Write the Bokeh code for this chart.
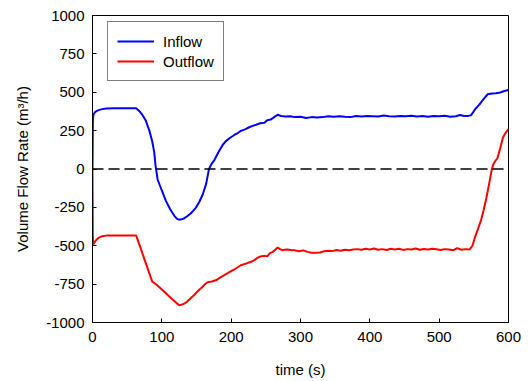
from bokeh.plotting import figure
from bokeh.models import Span, FixedTicker, Range1d, Legend, LegendItem
from bokeh.embed import file_html
from bokeh.resources import INLINE

# ---- data ----
t_in = [0, 0.5, 1, 2, 4, 7, 10, 14, 20, 30, 40, 50, 58, 63, 67, 72, 77, 82, 86, 89, 91, 94,
        100, 106, 112, 118, 122, 125, 128, 132, 137, 142, 149, 154, 159, 164, 168, 172, 176,
        182, 188, 192, 198, 204, 210, 214, 220, 226, 231, 236, 242, 248, 252, 257, 262, 267,
        272, 278, 285, 292, 300, 308, 316, 324, 332, 340, 348, 356, 364, 372, 380, 388, 396,
        404, 412, 420, 428, 436, 444, 452, 460, 468, 476, 484, 492, 500, 508, 516, 524, 530,
        536, 542, 546, 552, 558, 564, 570, 576, 582, 588, 594, 600]
inflow = [0, 300, 345, 360, 372, 380, 385, 390, 394, 395, 396, 396, 396, 396, 380, 352, 314,
          250, 183, 110, 20, -70, -140, -209, -262, -305, -325, -330, -328, -322, -306, -288,
          -253, -215, -166, -95, 0, 35, 60, 112, 158, 180, 202, 220, 236, 248, 258, 272, 281,
          288, 298, 302, 318, 322, 338, 353, 345, 342, 344, 338, 340, 332, 338, 336, 338, 343,
          340, 344, 340, 338, 345, 342, 346, 344, 342, 348, 344, 342, 345, 343, 347, 342, 345,
          340, 346, 343, 347, 341, 344, 352, 345, 346, 350, 390, 420, 455, 487, 492, 494, 498,
          508, 515]

t_out = [0, 0.5, 1, 2, 4, 7, 10, 14, 20, 30, 40, 50, 58, 63, 68, 74, 80, 86, 92, 98, 104,
         110, 116, 122, 125, 128, 132, 137, 142, 147, 152, 158, 163, 166, 172, 178, 184, 190,
         195, 200, 206, 214, 220, 228, 234, 238, 243, 248, 252, 256, 260, 264, 267, 270, 274,
         280, 286, 292, 298, 304, 310, 316, 322, 328, 334, 340, 346, 352, 358, 364, 370, 376,
         382, 388, 394, 400, 406, 412, 418, 424, 430, 436, 442, 448, 454, 460, 466, 472, 478,
         484, 490, 496, 502, 508, 514, 520, 526, 532, 538, 544, 548, 552, 556, 560, 564, 568,
         571, 574, 576, 578, 581, 584, 587, 590, 592, 595, 598, 600]
outflow = [0, -440, -490, -485, -470, -455, -445, -438, -434, -433, -433, -433, -433, -433,
           -498, -576, -654, -732, -752, -777, -802, -827, -852, -876, -888, -885, -878, -862,
           -840, -819, -795, -770, -748, -738, -733, -725, -708, -692, -678, -665, -650, -627,
           -618, -606, -592, -578, -569, -566, -569, -548, -540, -525, -512, -520, -529, -525,
           -528, -530, -536, -530, -540, -545, -546, -544, -536, -532, -535, -528, -532, -526,
           -530, -525, -522, -526, -520, -524, -518, -526, -522, -528, -520, -524, -519, -527,
           -522, -525, -518, -526, -521, -525, -520, -523, -528, -522, -525, -530, -515, -526,
           -522, -524, -500, -440, -390, -340, -270, -190, -122, -50, -2, 30, 52, 70, 118, 170,
           205, 230, 248, 259]

x_ticks = [0, 100, 200, 300, 400, 500, 600]
y_ticks = [-1000, -750, -500, -250, 0, 250, 500, 750, 1000]
y_tick_labels = ["-1000", "-750", "-500", "-250", "0", "250", "500", "750", "1000"]
series_names = ["Inflow", "Outflow"]

FONT = "Liberation Sans"

p = figure(width=528, height=381, output_backend="svg", toolbar_location=None,
           x_range=Range1d(0, 600), y_range=Range1d(-1000, 1000),
           min_border_left=92, min_border_right=20, min_border_top=15, min_border_bottom=59)
p.frame_width = 416
p.frame_height = 307

p.xgrid.visible = False
p.ygrid.visible = False
p.outline_line_color = "black"
p.outline_line_width = 1

for ax in (p.xaxis[0], p.yaxis[0]):
    ax.major_tick_in = 4
    ax.major_tick_out = 0
    ax.minor_tick_line_color = None
    ax.axis_line_color = "black"
    ax.major_tick_line_color = "black"
    ax.major_label_text_font = FONT
    ax.major_label_text_font_size = "15px"
    ax.major_label_text_color = "black"
    ax.axis_label_text_font = FONT
    ax.axis_label_text_font_size = "15px"
    ax.axis_label_text_font_style = "normal"
    ax.axis_label_text_color = "black"

p.xaxis[0].ticker = FixedTicker(ticks=x_ticks)
p.yaxis[0].ticker = FixedTicker(ticks=y_ticks)
p.yaxis[0].major_label_overrides = {v: s for v, s in zip(y_ticks, y_tick_labels)}
p.xaxis[0].axis_label = "time (s)"
p.yaxis[0].axis_label = "Volume Flow Rate (m³/h)"
p.xaxis[0].major_label_standoff = 9
p.yaxis[0].major_label_standoff = 8
p.xaxis[0].axis_label_standoff = 16
p.yaxis[0].axis_label_standoff = 12

p.add_layout(Span(location=0, dimension="width", line_color="black", line_width=1.3,
                  line_dash="11 5"))

r_in = p.line(t_in, inflow, line_color="#0000ff", line_width=2)
r_out = p.line(t_out, outflow, line_color="#ff0000", line_width=2)

legend = Legend(items=[LegendItem(label=series_names[0], renderers=[r_in]),
                       LegendItem(label=series_names[1], renderers=[r_out])],
                location=(15, 241))
legend.border_line_color = "black"
legend.border_line_width = 1
legend.background_fill_color = "white"
legend.background_fill_alpha = 1
legend.padding = 9
legend.spacing = 0
legend.margin = 0
legend.glyph_width = 37
legend.glyph_height = 20
legend.label_height = 20
legend.label_standoff = 9
legend.label_text_font = FONT
legend.label_text_font_size = "15px"
legend.label_text_color = "black"
p.add_layout(legend)

open("out.html", "w").write(file_html(p, INLINE))
